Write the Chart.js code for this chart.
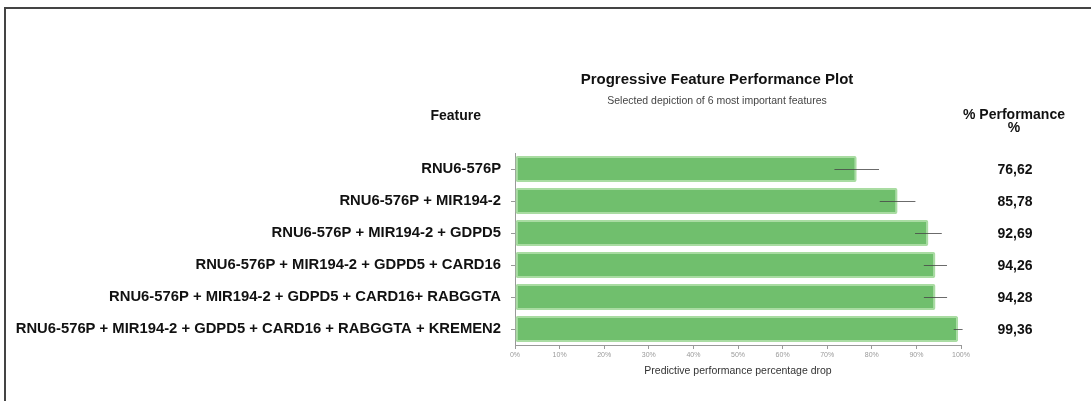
<!DOCTYPE html>
<html>
<head>
<meta charset="utf-8">
<title>Progressive Feature Performance Plot</title>
<script src="https://cdn.jsdelivr.net/npm/chart.js@4.4.0/dist/chart.umd.min.js"></script>
<style>
  body { margin: 0; background: #ffffff; }
  #wrap { position: relative; width: 1091px; height: 401px; }
  #frame {
    position: absolute; left: 4px; top: 7px; right: 0; bottom: 0;
    border-top: 2px solid #444; border-left: 2px solid #444;
    pointer-events: none;
  }
  canvas { position: absolute; left: 0; top: 0; }
</style>
</head>
<body>
<div id="wrap">
  <canvas id="myChart" width="1091" height="401"></canvas>
  <div id="frame"></div>
</div>
<script>
"use strict"

// data
const features = [
    "RNU6-576P",
    "RNU6-576P + MIR194-2",
    "RNU6-576P + MIR194-2 + GDPD5",
    "RNU6-576P + MIR194-2 + GDPD5 + CARD16",
    "RNU6-576P + MIR194-2 + GDPD5 + CARD16+ RABGGTA",
    "RNU6-576P + MIR194-2 + GDPD5 + CARD16 + RABGGTA + KREMEN2"
];
const performance = [76.62, 85.78, 92.69, 94.26, 94.28, 99.36];
const performanceText = ["76,62", "85,78", "92,69", "94,26", "94,28", "99,36"];
// half width of the error whiskers, in %
const errorSize = [5.0, 4.0, 3.0, 2.6, 2.6, 1.0];
const xTicks = [0, 10, 20, 30, 40, 50, 60, 70, 80, 90, 100];

const titleText = "Progressive Feature Performance Plot";
const subtitleText = "Selected depiction of 6 most important features";
const axisTitle = "Predictive performance percentage drop";

const fontName = "'Liberation Sans', Arial, sans-serif";


// thin whiskers over each bar
const errorBarPlugin = {
    id: "errorBars",
    afterDatasetsDraw(chart) {
        const ctx = chart.ctx;
        const x = chart.scales.x;
        const y = chart.scales.y;
        ctx.save();
        ctx.strokeStyle = "rgba(70,70,70,0.8)";
        ctx.lineWidth = 1;
        for (let i = 0; i < performance.length; i++) {
            const yy = Math.round(y.getPixelForValue(i)) + 0.5;
            ctx.beginPath();
            ctx.moveTo(x.getPixelForValue(performance[i] - errorSize[i]), yy);
            ctx.lineTo(x.getPixelForValue(Math.min(100.5, performance[i] + errorSize[i])), yy);
            ctx.stroke();
        }
        ctx.restore();
    }
};

// headers, title and right hand column of values
const textPlugin = {
    id: "texts",
    afterDraw(chart) {
        const ctx = chart.ctx;
        const y = chart.scales.y;
        ctx.save();
        ctx.fillStyle = "#111";
        ctx.textBaseline = "middle";

        ctx.textAlign = "center";
        ctx.font = "bold 15px " + fontName;
        ctx.fillText(titleText, 717, 80);
        ctx.font = "10.5px " + fontName;
        ctx.fillStyle = "#444";
        ctx.fillText(subtitleText, 717, 101);

        ctx.fillStyle = "#111";
        ctx.font = "bold 14px " + fontName;
        ctx.textAlign = "right";
        ctx.fillText("Feature", 481, 116);
        ctx.textAlign = "center";
        ctx.fillText("% Performance", 1014, 115);
        ctx.fillText("%", 1014, 128);

        for (let i = 0; i < performanceText.length; i++) {
            ctx.fillText(performanceText[i], 1015, y.getPixelForValue(i) + 1);
        }
        ctx.restore();
    }
};

const data = {
    labels: features,
    datasets: [
        {
            label: "% Performance",
            data: performance,
            backgroundColor: "#70bf6d",
            borderColor: "#a9dca2",
            borderWidth: 2,
            borderSkipped: false,
            borderRadius: 2,
            categoryPercentage: 1,
            barPercentage: 0.82
        }
    ]
};

const config = {
    type: "bar",
    data: data,
    options: {
        indexAxis: "y",
        responsive: false,
        animation: false,
        layout: { padding: { top: 153, right: 130, bottom: 0, left: 0 } },
        plugins: {
            legend: { display: false },
            tooltip: { enabled: false }
        },
        scales: {
            x: {
                min: 0,
                max: 100,
                afterFit: function (scale) { scale.height = 56; },
                afterBuildTicks: function (scale) {
                    scale.ticks = xTicks.map(v => ({ value: v }));
                },
                ticks: {
                    color: "#9a9a9a",
                    font: { size: 7, family: fontName },
                    padding: 2,
                    maxRotation: 0,
                    callback: v => v + "%"
                },
                grid: { drawOnChartArea: false, tickLength: 4, color: "#999" },
                border: { color: "#999" },
                title: {
                    display: true,
                    text: axisTitle,
                    color: "#333",
                    font: { size: 10.5, family: fontName },
                    padding: { top: 6, bottom: 24 }
                }
            },
            y: {
                afterFit: function (scale) { scale.width = 515; },
                ticks: {
                    color: "#111",
                    padding: 10,
                    font: { size: 14.8, weight: "bold", family: fontName }
                },
                grid: { drawOnChartArea: false, offset: false, tickLength: 4, color: "#999" },
                border: { color: "#999" }
            }
        }
    },
    plugins: [errorBarPlugin, textPlugin]
};

const featureChart = new Chart(document.getElementById("myChart"), config);
</script>
</body>
</html>
